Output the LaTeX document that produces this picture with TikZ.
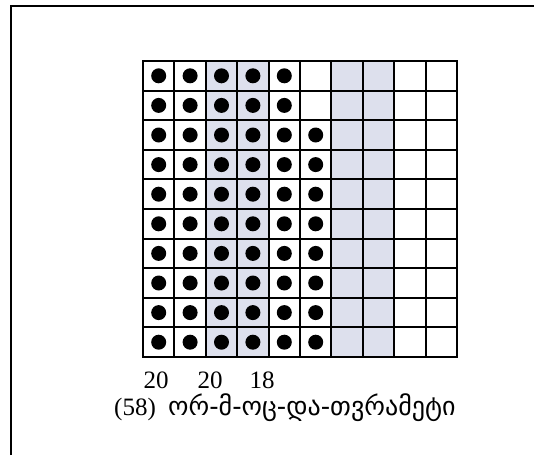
\documentclass[tikz,border=0pt]{standalone}
\usepackage{fontspec}
\setmainfont{Liberation Serif}
\newfontfamily\geofont[Script=Georgian]{DejaVu Sans}
\definecolor{gridshade}{RGB}{221,224,237}

\begin{document}
\begin{tikzpicture}[x=1pt, y=-1pt, every node/.style={font=\fontsize{25}{28}\selectfont}, cell/.style={draw, line width=2pt, minimum width=31.4pt, minimum height=29.6pt, inner sep=0pt}, dot/.style={circle, fill=black, minimum size=15pt, inner sep=0pt}, lbl/.style={anchor=base, inner sep=0pt}]
	\useasboundingbox (0,0) rectangle (534,455);
	\fill[white] (0,0) rectangle (534,455);
	\draw[line width=1.6pt] (11,455) -- (11,6) -- (534,6);
	% shaded columns 3,4 and 7,8
	\foreach \c in {3,4,7,8} {\fill[gridshade] ({143+31.4*(\c-1)},61) rectangle ({143+31.4*\c},357);}
	\foreach \r in {1,...,10} {\foreach \c in {1,...,10} {\node[cell] (c\r-\c) at ({143+31.4*(\c-0.5)},{61+29.6*(\r-0.5)}) {};}}
	% dots: 5 in the first two rows, 6 below
	\foreach \r in {1,2} {\foreach \c in {1,...,5} {\node[dot] (d\r-\c) at (c\r-\c) {};}}
	\foreach \r in {3,...,10} {\foreach \c in {1,...,6} {\node[dot] (d\r-\c) at (c\r-\c) {};}}
	\node[lbl] (n1) at (156,388) {20};
	\node[lbl] (n2) at (210,388) {20};
	\node[lbl] (n3) at (262,388) {18};
	\node[lbl, anchor=base west] (total) at (114,415) {(58)};
	\node[lbl, anchor=base west] (word) at (168,415) {\geofont\fontsize{26}{29}\selectfont ორ-მ-ოც-და-თვრამეტი};
\end{tikzpicture}
\end{document}
